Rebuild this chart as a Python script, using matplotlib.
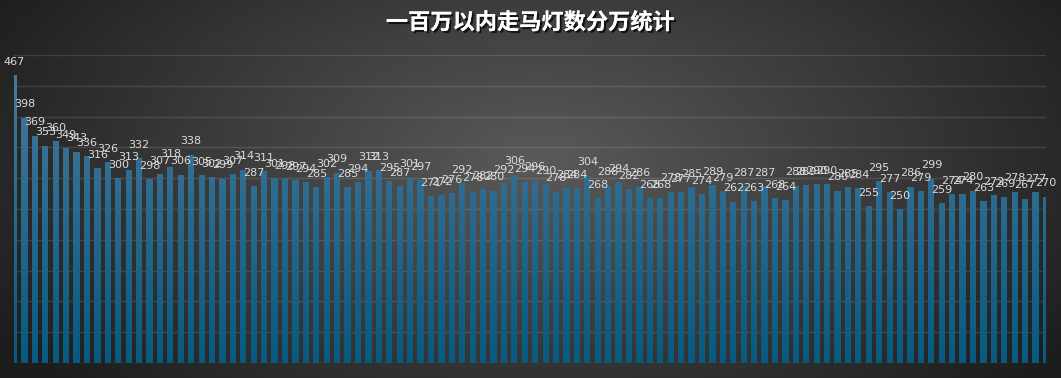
import numpy as np
import matplotlib
matplotlib.use("Agg")
import matplotlib.pyplot as plt
import matplotlib.patheffects as pe
from matplotlib.path import Path

plt.rcParams['font.family'] = ['Noto Sans CJK SC', 'DejaVu Sans']

# Anzahl der Zahlen pro 10000er Bereich (1..100)
bereiche = list(range(1, 101))
anzahl = [467, 398, 369, 353, 360, 349, 343, 336, 316, 326,
          300, 313, 332, 298, 307, 318, 306, 338, 305, 302,
          299, 307, 314, 287, 311, 301, 298, 297, 294, 285,
          302, 309, 285, 294, 312, 313, 295, 287, 301, 297,
          271, 272, 276, 292, 278, 282, 280, 292, 306, 294,
          296, 290, 278, 284, 284, 304, 268, 288, 294, 282,
          286, 268, 268, 278, 277, 285, 274, 289, 279, 262,
          287, 263, 287, 268, 264, 288, 289, 290, 290, 280,
          285, 284, 255, 295, 277, 250, 286, 279, 299, 259,
          274, 274, 280, 263, 272, 269, 278, 267, 277, 270]
titel = "一百万以内走马灯数分万统计"

fig = plt.figure(figsize=(10.61, 3.78), dpi=100)

# hintergrund mit radialem verlauf
bg = fig.add_axes([0, 0, 1, 1])
yy, xx = np.mgrid[0:378, 0:1061]
d = np.sqrt(((xx - 540) / 640.0) ** 2 + ((yy - 160) / 330.0) ** 2)
d = np.clip(d, 0, 1)
hell = np.array([0x5a, 0x5a, 0x5a]) / 255.0
dunkel = np.array([0x1d, 0x1d, 0x1d]) / 255.0
img = hell[None, None, :] * (1 - d[..., None]) + dunkel[None, None, :] * d[..., None]
bg.imshow(img, aspect='auto', extent=[0, 1, 0, 1])
bg.axis('off')

ax = fig.add_axes([14 / 1061, 15 / 378, 1032 / 1061, 308 / 378])
ax.set_facecolor('none')
x = np.arange(len(bereiche))
balken = ax.bar(x, anzahl, width=0.6, color='none', edgecolor='none', zorder=2)

# farbverlauf der balken
pfad = Path.make_compound_path(*[b.get_path().transformed(b.get_patch_transform()) for b in balken])
verlauf = np.linspace(0, 1, 256)[:, None]
oben = np.array([0x4c, 0x7a, 0x9c]) / 255.0
unten = np.array([0x06, 0x5a, 0x80]) / 255.0
farbe = oben[None, None, :] * (1 - verlauf[..., None]) + unten[None, None, :] * verlauf[..., None]
farbe = np.repeat(farbe, 2, axis=1)
im = ax.imshow(farbe, aspect='auto', extent=[-0.5, 99.5, 0, 500], zorder=2)
im.set_clip_path(pfad, ax.transData)

ax.set_xlim(0, 99)
ax.set_ylim(0, 500)
for g in range(0, 501, 50):
    ax.axhline(g, color='white', alpha=0.12, lw=1, zorder=1)
ax.set_xticks([])
ax.set_yticks([])
for s in ax.spines.values():
    s.set_visible(False)

for xi, v in zip(x, anzahl):
    ax.annotate(str(v), (xi, v), xytext=(0, 6), textcoords='offset points',
                ha='center', va='bottom', fontsize=8, color='#dcdcdc',
                family='DejaVu Sans', annotation_clip=False, zorder=3)

fig.text(0.5, 0.94, titel, ha='center', va='center', fontsize=16, color='white',
         fontweight='bold',
         path_effects=[pe.withSimplePatchShadow(offset=(1.5, -1.5), shadow_rgbFace='black', alpha=0.7), pe.Normal()])

fig.savefig("out.png", dpi=100)
